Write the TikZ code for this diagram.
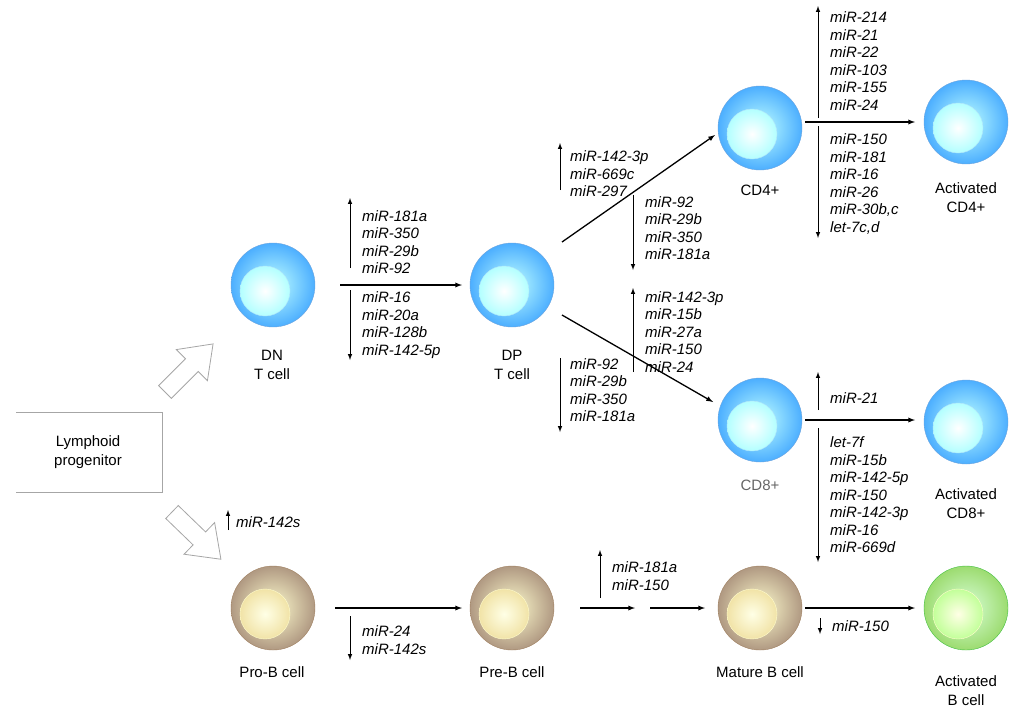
\documentclass[tikz,border=0pt]{standalone}
\usepackage{fontspec}
\setmainfont{Liberation Sans}
\begin{document}
\begin{tikzpicture}[x=1pt,y=-1pt,
  bcell/.style={circle, minimum size=84pt, inner sep=0pt, draw=cyan!60!blue!60, inner color=cyan!25, outer color=cyan!55!blue!70},
  bcore/.style={circle, minimum size=50pt, inner sep=0pt, draw=white!70!cyan, inner color=white, outer color=cyan!30},
  tcell/.style={circle, minimum size=84pt, inner sep=0pt, draw=brown!50!gray, inner color=brown!15!yellow!20!white, outer color=brown!45!gray!80},
  tcore/.style={circle, minimum size=50pt, inner sep=0pt, draw=white!80!yellow, inner color=yellow!10, outer color=yellow!45!brown!40},
  gcell/.style={circle, minimum size=84pt, inner sep=0pt, draw=green!50!gray, inner color=green!15, outer color=green!45!lime!60!gray!70},
  gcore/.style={circle, minimum size=50pt, inner sep=0pt, draw=white!80!yellow, inner color=yellow!10, outer color=yellow!40!green!40},
  lbl/.style={align=center, font=\fontsize{15}{19}\selectfont},
  mir/.style={align=left, anchor=west, font=\fontsize{15}{17.5}\selectfont\itshape, inner sep=0pt},
  steparrow/.style={-latex, line width=1.3pt},
  updown/.style={-latex, line width=1pt},
  block/.style={draw=gray!70, fill=white, line width=0.8pt}
]
\useasboundingbox (0,0) rectangle (1024,716);

% Progenitor box (open on the left)
\draw[gray!70, line width=0.8pt] (16,412) -- (162,412) -- (162,492) -- (16,492);
\node[lbl] (lp) at (88,452) {Lymphoid\\progenitor};

% Block arrows
\draw[block, shift={(165,392)}, rotate=45] (0,-9) -- (38,-9) -- (38,-22) -- (68,0) -- (38,22) -- (38,9) -- (0,9) -- cycle;
\draw[block, shift={(172,512)}, rotate=-44] (0,-9) -- (38,-9) -- (38,-22) -- (68,0) -- (38,22) -- (38,9) -- (0,9) -- cycle;

% Cells
\node[bcell] (dn) at (273,285) {};
\node[bcell] (dp) at (512,285) {};
\node[bcell] (cd4) at (760,128) {};
\node[bcell] (acd4) at (966,122) {};
\node[bcell] (cd8) at (760,420) {};
\node[bcell] (acd8) at (966,422) {};
\node[tcell] (prob) at (273,608) {};
\node[tcell] (preb) at (512,608) {};
\node[tcell] (matb) at (760,608) {};
\node[gcell] (actb) at (966,608) {};
\foreach \c/\s in {dn/bcore, dp/bcore, cd4/bcore, acd4/bcore, cd8/bcore, acd8/bcore, prob/tcore, preb/tcore, matb/tcore, actb/gcore}
  \node[\s] (\c-in) at ([shift={(-8,6)}]\c.center) {};

% Cell labels
\node[lbl] (dnl) at (272,365) {DN\\T cell};
\node[lbl] (dpl) at (512,365) {DP\\T cell};
\node[lbl] (cd4l) at (760,190) {CD4+};
\node[lbl] (acd4l) at (966,198) {Activated\\CD4+};
\node[lbl, text=gray!80!black] (cd8l) at (760,485) {CD8+};
\node[lbl] (acd8l) at (966,504) {Activated\\CD8+};
\node[lbl] (probl) at (272,672) {Pro-B cell};
\node[lbl] (prebl) at (512,672) {Pre-B cell};
\node[lbl] (matbl) at (760,672) {Mature B cell};
\node[lbl] (actbl) at (966,691) {Activated\\B cell};

% Differentiation steps
\coordinate (s1) at (340,285); \coordinate (e1) at (462,285);
\draw[steparrow] (s1) -- (e1);
\coordinate (s2) at (562,242); \coordinate (e2) at (715,135);
\draw[steparrow] (s2) -- (e2);
\coordinate (s3) at (562,315); \coordinate (e3) at (713,402);
\draw[steparrow] (s3) -- (e3);
\coordinate (s4) at (805,122); \coordinate (e4) at (915,122);
\draw[steparrow] (s4) -- (e4);
\coordinate (s5) at (805,420); \coordinate (e5) at (915,420);
\draw[steparrow] (s5) -- (e5);
\coordinate (s6) at (335,608); \coordinate (e6) at (462,608);
\draw[steparrow] (s6) -- (e6);
\coordinate (s7) at (580,608); \coordinate (e7) at (635,608);
\draw[steparrow] (s7) -- (e7);
\coordinate (s8) at (650,608); \coordinate (e8) at (705,608);
\draw[steparrow] (s8) -- (e8);
\coordinate (s9) at (805,608); \coordinate (e9) at (915,608);
\draw[steparrow] (s9) -- (e9);

% miRNA up / down
\draw[updown] (350,268) coordinate (u1) -- (350,198) coordinate (u1e);
\node[mir] (m1) at (362,242) {miR-181a\\miR-350\\miR-29b\\miR-92};
\draw[updown] (350,290) coordinate (d1) -- (350,360) coordinate (d1e);
\node[mir] (m2) at (362,325) {miR-16\\miR-20a\\miR-128b\\miR-142-5p};

\draw[updown] (560,190) coordinate (u2) -- (560,143) coordinate (u2e);
\node[mir] (m3) at (570,174) {miR-142-3p\\miR-669c\\miR-297};
\draw[updown] (633,195) coordinate (d2) -- (633,270) coordinate (d2e);
\node[mir] (m4) at (645,228) {miR-92\\miR-29b\\miR-350\\miR-181a};

\draw[updown] (633,372) coordinate (u3) -- (633,288) coordinate (u3e);
\node[mir] (m5) at (645,332) {miR-142-3p\\miR-15b\\miR-27a\\miR-150\\miR-24};
\draw[updown] (560,358) coordinate (d3) -- (560,432) coordinate (d3e);
\node[mir] (m6) at (570,390) {miR-92\\miR-29b\\miR-350\\miR-181a};

\draw[updown] (818,118) coordinate (u4) -- (818,6) coordinate (u4e);
\node[mir] (m7) at (830,61) {miR-214\\miR-21\\miR-22\\miR-103\\miR-155\\miR-24};
\draw[updown] (818,126) coordinate (d4) -- (818,238) coordinate (d4e);
\node[mir] (m8) at (830,184) {miR-150\\miR-181\\miR-16\\miR-26\\miR-30b,c\\let-7c,d};

\draw[updown] (818,410) coordinate (u5) -- (818,372) coordinate (u5e);
\node[mir] (m9) at (830,398) {miR-21};
\draw[updown] (818,428) coordinate (d5) -- (818,562) coordinate (d5e);
\node[mir] (m10) at (830,495) {let-7f\\miR-15b\\miR-142-5p\\miR-150\\miR-142-3p\\miR-16\\miR-669d};

\draw[updown] (228,530) coordinate (u6) -- (228,510) coordinate (u6e);
\node[mir] (m11) at (236,522) {miR-142s};

\draw[updown] (350,616) coordinate (d7) -- (350,660) coordinate (d7e);
\node[mir] (m12) at (362,640) {miR-24\\miR-142s};

\draw[updown] (600,598) coordinate (u8) -- (600,550) coordinate (u8e);
\node[mir] (m13) at (612,576) {miR-181a\\miR-150};

\draw[updown] (820,618) coordinate (d9) -- (820,634) coordinate (d9e);
\node[mir] (m14) at (832,626) {miR-150};
\end{tikzpicture}
\end{document}
